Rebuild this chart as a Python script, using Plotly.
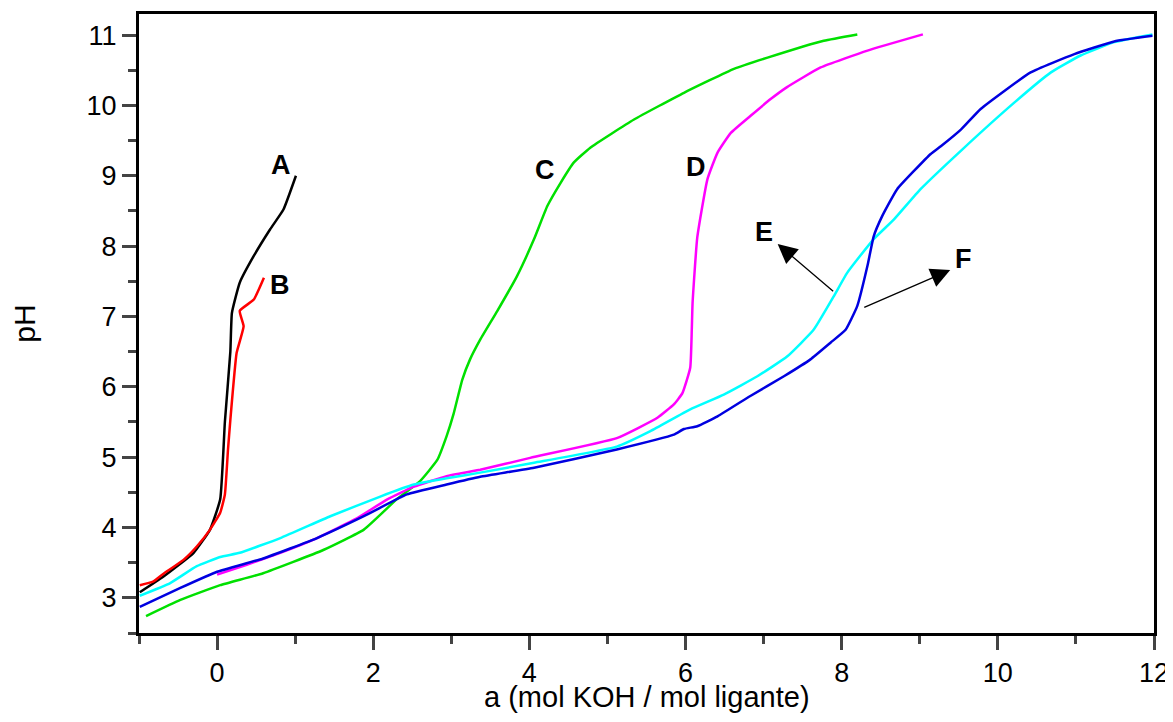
import plotly.graph_objects as go

# Curve A (black)
a_x = [-0.99, -0.69, -0.30, -0.09, 0.04, 0.10, 0.17, 0.19, 0.29, 0.47, 0.68, 0.85, 1.01]
a_y = [3.08, 3.30, 3.64, 3.97, 4.40, 5.50, 6.50, 7.05, 7.48, 7.86, 8.24, 8.52, 9.00]

# Curve B (red)
b_x = [-0.99, -0.82, -0.69, -0.43, -0.26, -0.09, 0.04, 0.10, 0.14, 0.17, 0.25, 0.34, 0.29, 0.47, 0.60]
b_y = [3.18, 3.23, 3.34, 3.54, 3.73, 3.97, 4.21, 4.47, 5.11, 5.53, 6.48, 6.86, 7.08, 7.24, 7.55]

# Curve C (green)
c_x = [-0.91, -0.47, 0.04, 0.59, 1.36, 1.88, 2.30, 2.60, 2.82, 2.94, 3.03, 3.14, 3.24, 3.37, 3.59,
       3.84, 4.06, 4.23, 4.40, 4.57, 4.78, 5.34, 5.98, 6.62, 7.05, 7.77, 8.20]
c_y = [2.74, 2.97, 3.18, 3.35, 3.68, 3.97, 4.40, 4.66, 4.96, 5.30, 5.62, 6.10, 6.39, 6.67, 7.08,
       7.57, 8.10, 8.57, 8.90, 9.19, 9.40, 9.80, 10.18, 10.52, 10.68, 10.92, 11.01]

# Curve D (magenta)
d_x = [0.0, 0.38, 0.81, 1.28, 1.79, 2.18, 2.52, 2.94, 3.37, 4.01, 5.12, 5.64, 5.85, 5.96, 6.06,
       6.08, 6.09, 6.15, 6.28, 6.41, 6.58, 6.83, 7.09, 7.30, 7.73, 8.33, 9.04]
d_y = [3.33, 3.47, 3.64, 3.85, 4.13, 4.40, 4.58, 4.73, 4.82, 4.99, 5.27, 5.56, 5.75, 5.91, 6.27,
       6.81, 7.19, 8.12, 8.95, 9.33, 9.61, 9.85, 10.09, 10.26, 10.54, 10.78, 11.01]

# Curve E (cyan)
e_x = [-0.99, -0.60, -0.26, 0.04, 0.29, 0.81, 1.45, 2.09, 2.52, 2.94, 3.37, 4.06, 5.12, 5.55,
       6.06, 6.49, 6.92, 7.30, 7.64, 7.90, 8.07, 8.41, 8.67, 9.01, 9.55, 10.21, 10.68, 11.06,
       11.49, 11.98]
e_y = [3.03, 3.21, 3.45, 3.58, 3.64, 3.85, 4.16, 4.44, 4.61, 4.70, 4.78, 4.92, 5.15, 5.37,
       5.68, 5.89, 6.15, 6.43, 6.81, 7.29, 7.62, 8.10, 8.38, 8.81, 9.38, 10.04, 10.47, 10.71,
       10.90, 11.01]

# Curve F (blue)
f_x = [-0.99, -0.47, 0.0, 0.59, 1.28, 1.88, 2.43, 2.94, 3.37, 4.06, 5.12, 5.85, 5.98, 6.15,
       6.41, 6.83, 7.26, 7.60, 7.86, 8.05, 8.20, 8.33, 8.41, 8.52, 8.71, 9.14, 9.27, 9.53, 9.78,
       10.42, 10.98, 11.49, 11.98]
f_y = [2.87, 3.14, 3.37, 3.56, 3.85, 4.16, 4.47, 4.61, 4.72, 4.85, 5.11, 5.32, 5.40, 5.44,
       5.58, 5.87, 6.15, 6.39, 6.63, 6.81, 7.15, 7.72, 8.14, 8.43, 8.81, 9.31, 9.42, 9.66, 9.95,
       10.47, 10.73, 10.91, 10.99]

labels = [("A", 0.82, 9.15), ("B", 0.80, 7.45), ("C", 4.20, 9.08),
          ("D", 6.13, 9.13), ("E", 7.00, 8.20), ("F", 9.56, 7.81)]

x_title = "a (mol KOH / mol ligante)"
y_title = "pH"

fig = go.Figure()
series = [(a_x, a_y, "#000000"), (b_x, b_y, "#ff0000"), (c_x, c_y, "#00e000"),
          (d_x, d_y, "#ff00ff"), (e_x, e_y, "#00ffff"), (f_x, f_y, "#0000e0")]
for xs, ys, col in series:
    fig.add_trace(go.Scatter(x=xs, y=ys, mode="lines",
                             line=dict(color=col, width=2.5, shape="spline", smoothing=0.4),
                             showlegend=False))

annotations = []
for t, x, y in labels:
    annotations.append(dict(x=x, y=y, text="<b>%s</b>" % t, showarrow=False,
                            font=dict(size=27, color="black", family="Liberation Sans, Arial")))
# arrows for E and F
annotations.append(dict(x=7.18, y=8.03, ax=7.91, ay=7.34, axref="x", ayref="y",
                        xref="x", yref="y", showarrow=True, arrowhead=2, arrowsize=3.0,
                        arrowwidth=1.3, arrowcolor="black", text=""))
annotations.append(dict(x=9.39, y=7.66, ax=8.27, ay=7.12, axref="x", ayref="y",
                        xref="x", yref="y", showarrow=True, arrowhead=2, arrowsize=3.0,
                        arrowwidth=1.3, arrowcolor="black", text=""))
# x-axis title placed just below the tick labels
annotations.append(dict(x=0.5, y=-0.104, xref="paper", yref="paper", xanchor="center",
                        yanchor="middle", showarrow=False, text=x_title,
                        font=dict(size=29, color="black", family="Liberation Sans, Arial")))

fig.update_layout(
    width=1165, height=706,
    margin=dict(l=131, r=19, t=6, b=81),
    paper_bgcolor="white", plot_bgcolor="white",
    font=dict(family="Liberation Sans, Arial", size=28, color="black"),
    annotations=annotations,
)
fig.update_xaxes(range=[-1, 12], tick0=0, dtick=2, ticks="outside", ticklen=14, tickwidth=3,
                 showline=True, linewidth=3, linecolor="black", mirror=True,
                 showgrid=False, zeroline=False, automargin=False,
                 ticklabeloverflow="allow",
                 minor=dict(dtick=1, ticks="outside", ticklen=8, tickwidth=3, showgrid=False),
                 tickfont=dict(size=27))
fig.update_yaxes(range=[2.5, 11.3], tick0=3, dtick=1, ticks="outside", ticklen=14, tickwidth=3,
                 showline=True, linewidth=3, linecolor="black", mirror=True,
                 showgrid=False, zeroline=False, automargin=False,
                 minor=dict(dtick=0.5, ticks="outside", ticklen=8, tickwidth=3, showgrid=False),
                 title=dict(text=y_title, standoff=44, font=dict(size=30)),
                 tickfont=dict(size=27))

fig.write_html("out.html")
